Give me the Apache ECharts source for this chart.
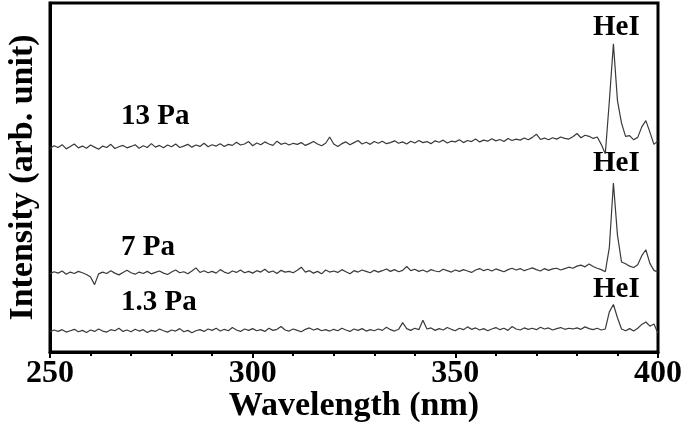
<!DOCTYPE html>
<html>
<head>
<meta charset="utf-8">
<script src="https://cdn.jsdelivr.net/npm/echarts@6/dist/echarts.min.js"></script>
<style>
html, body { margin: 0; padding: 0; background: #fff; }
#chart { width: 683px; height: 423px; }
</style>
</head>
<body>
<div id="chart"></div>
<script>
// wavelength grid, 1 nm step from 250 to 400
var wavelengths = [];
for (var w = 250; w <= 400; w++) {
	wavelengths.push(w);
}

var xTicks = [250, 300, 350, 400];

// 13 Pa spectrum (offset upward)
var pa13 = [
	58.3, 59.1, 58.6, 59.4, 58.2, 58.9, 59.6, 58.5, 59.0, 58.4,
	59.3, 58.7, 58.1, 59.0, 58.6, 59.5, 58.3, 58.8, 59.2, 58.5,
	58.9, 59.4, 58.4, 59.1, 58.6, 59.7, 58.7, 59.2, 58.5, 59.3,
	58.8, 59.6, 58.6, 59.0, 59.5, 58.7, 59.3, 58.9, 59.8, 58.8,
	59.4, 59.0, 59.7, 58.9, 59.5, 59.2, 60.1, 59.3, 59.6, 60.3,
	59.1, 59.9, 59.4, 60.2, 59.6, 59.2, 60.4, 59.5, 59.9, 59.3,
	59.8, 59.5, 60.0, 59.2, 59.7, 60.3, 59.6, 59.1, 59.8, 61.6,
	59.6, 58.9, 59.7, 60.2, 59.4, 60.0, 60.6, 59.6, 60.1, 59.5,
	60.3, 59.8, 60.4, 59.7, 60.0, 60.5, 59.8, 60.2, 59.6, 60.4,
	59.9, 60.6, 60.0, 60.3, 59.7, 60.5, 60.1, 60.7, 59.9, 60.4,
	60.2, 60.8, 60.0, 60.6, 60.3, 61.0, 60.2, 60.7, 60.4, 61.1,
	60.5, 60.9, 60.3, 61.2, 60.6, 61.0, 60.7, 61.3, 60.8, 61.5,
	62.4, 60.9, 61.3, 60.8, 61.4, 61.0, 61.6, 61.2, 61.0, 61.7,
	62.6, 61.4, 62.1, 61.8, 61.2, 61.6, 59.5, 56.8, 72.0, 88.3,
	72.0, 65.6, 61.8, 62.0, 60.8, 61.5, 64.5, 66.3, 63.0, 59.5,
	60.5
];

// 7 Pa spectrum
var pa7 = [
	22.4, 23.0, 22.6, 23.2, 22.3, 22.9, 22.5, 23.1, 22.7, 22.2,
	21.5, 19.3, 22.4, 22.9, 22.5, 23.3, 22.6, 22.1, 22.8, 23.4,
	22.7, 22.3, 22.9, 22.5, 23.1, 22.4, 22.8, 23.2, 22.6, 22.2,
	22.9, 23.5, 22.7, 23.0, 22.4, 23.2, 24.1, 22.8, 23.3, 22.7,
	23.1, 22.6, 23.6, 22.9, 22.5, 23.2, 22.8, 23.5, 22.7, 23.1,
	22.6, 23.3, 22.9, 23.7, 22.8, 23.2, 22.5, 23.4, 22.9, 23.1,
	22.7, 23.4, 24.3, 22.9, 23.3, 22.6, 23.1, 22.4, 23.5, 22.9,
	23.2, 22.8, 23.6, 23.0, 22.4, 23.3, 22.9, 23.5, 23.1, 22.7,
	23.4, 22.9, 23.3, 23.8, 23.1, 23.6, 23.0, 23.4, 24.5, 23.3,
	23.7, 23.1, 23.5, 22.9, 23.6, 23.2, 23.0, 23.7, 23.3, 22.9,
	23.5, 23.1, 23.6, 23.2, 22.8, 23.5, 23.9, 23.3, 23.7, 23.2,
	23.8, 23.4, 23.0, 23.6, 24.0, 23.5, 23.9, 23.3, 23.7, 24.1,
	23.6, 23.2, 23.9, 23.4, 23.8, 24.0, 23.5, 23.9, 24.3, 24.0,
	24.6, 24.9, 24.4, 25.2, 24.5, 24.0, 23.6, 23.0, 30.0, 48.4,
	33.5, 25.8, 25.3, 24.6, 24.2, 25.0, 27.6, 29.3, 25.4, 23.4,
	22.9
];

// 1.3 Pa spectrum
var pa1_3 = [
	5.8, 6.3, 5.9, 6.4, 5.7, 6.1, 6.5, 5.8, 6.2, 5.6,
	6.3, 5.9, 6.6, 6.0, 5.7, 6.4, 6.1, 6.8, 5.9, 6.3,
	5.8, 6.5, 6.0, 6.4, 5.6, 6.2, 5.9, 6.6, 6.1, 5.7,
	6.3, 6.0, 6.7, 5.8, 6.2, 5.5, 6.1, 6.4, 5.9, 6.6,
	6.2, 6.8, 6.0, 6.5, 6.1, 7.0, 6.3, 5.9, 6.6, 6.2,
	6.7, 6.1, 6.4, 5.9, 6.8, 6.2, 6.5, 7.3, 6.3, 6.0,
	6.6, 6.2, 5.8, 6.5, 6.9, 6.3, 6.7, 6.1, 6.4, 6.0,
	6.5, 6.1, 6.8, 6.3, 5.9, 6.6, 6.2, 6.7, 6.0, 6.4,
	6.1, 6.6, 6.2, 7.1, 6.4, 6.0, 6.5, 8.4, 6.7, 6.2,
	6.8, 6.4, 9.1, 6.6, 6.9, 6.2, 6.7, 6.3, 7.0, 6.5,
	6.1, 6.8, 6.4, 7.2, 6.5, 6.9, 6.3, 6.7, 6.1, 6.6,
	7.0, 6.4, 6.8, 6.2, 7.3, 6.6, 6.3, 6.9, 6.5, 6.8,
	6.4, 7.1, 6.6, 6.9, 6.3, 6.7, 7.0, 6.5, 6.8, 6.6,
	6.9, 6.5, 7.2, 6.7, 6.4, 6.8, 6.3, 6.6, 11.5, 13.6,
	9.8, 6.6, 6.1, 6.7, 6.0, 6.8, 7.9, 8.6, 7.4, 8.0,
	5.4
];

var seriesNames = ["13 Pa", "7 Pa", "1.3 Pa"];
var seriesValues = [pa13, pa7, pa1_3];

var FONT = "'Liberation Serif', 'DejaVu Serif', serif";

function pairs(values){
	var out = [];
	for(var i = 0; i < wavelengths.length; ++i){
		out.push([wavelengths[i], values[i]]);
	}
	return out;
}

var series = [];
for(var i = 0; i < seriesNames.length; ++i){
	series.push({
		name : seriesNames[i],
		type : "line",
		data : pairs(seriesValues[i]),
		symbol : "none",
		smooth : false,
		lineStyle : { color : "#3a3a3a", width : 1.2 },
		animation : false
	});
}

// text annotations
function note(text, x, y, size){
	return {
		type : "text",
		left : x,
		top : y,
		style : {
			text : text,
			font : "bold " + size + "px " + FONT,
			fill : "#000"
		}
	};
}

var option = {
	animation : false,
	grid : {
		left : 50,
		right : 25,
		top : 3,
		bottom : 71,
		containLabel : false,
		outerBoundsMode : "none",
		show : true,
		borderColor : "#000",
		borderWidth : 3
	},
	xAxis : {
		type : "value",
		min : 250,
		max : 400,
		interval : 50,
		name : "Wavelength (nm)",
		nameLocation : "middle",
		nameGap : 37,
		nameMoveOverlap : false,
		nameTextStyle : { fontFamily : FONT, fontWeight : "bold", fontSize : 34, color : "#000" },
		axisLine : { show : true, lineStyle : { color : "#000", width : 3 } },
		axisTick : { show : true, inside : false, length : 6, lineStyle : { color : "#000", width : 2 } },
		minorTick : { show : true, splitNumber : 5, length : 4, lineStyle : { color : "#000", width : 2 } },
		splitLine : { show : false },
		axisLabel : {
			fontFamily : FONT, fontWeight : "bold", fontSize : 32, color : "#000", margin : 6,
			formatter : function(v){ return xTicks.indexOf(v) >= 0 ? String(v) : ""; }
		}
	},
	yAxis : {
		type : "value",
		min : 0,
		max : 100,
		name : "Intensity (arb. unit)",
		nameLocation : "middle",
		nameGap : 10,
		nameRotate : 90,
		nameTextStyle : { fontFamily : FONT, fontWeight : "bold", fontSize : 34, color : "#000" },
		axisLine : { show : true, lineStyle : { color : "#000", width : 3 } },
		axisTick : { show : false },
		axisLabel : { show : false },
		splitLine : { show : false }
	},
	graphic : [
		note("13 Pa", 121, 102, 29),
		note("7 Pa", 121, 233, 29),
		note("1.3 Pa", 121, 288, 29),
		note("HeI", 593, 13, 29),
		note("HeI", 593, 149, 29),
		note("HeI", 593, 275, 29)
	],
	series : series
};

var chart = echarts.init(document.getElementById("chart"), null, { renderer : "canvas" });
chart.setOption(option);
</script>
</body>
</html>
